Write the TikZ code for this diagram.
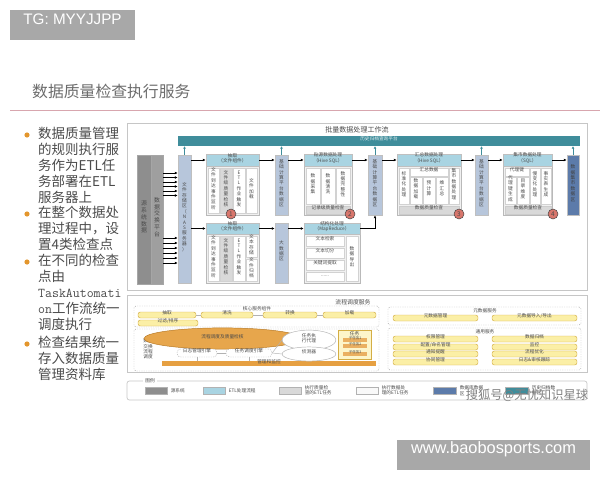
\documentclass[tikz,border=0pt]{standalone}
\usepackage{fontspec}
\setmainfont{Noto Sans CJK SC}
\newfontfamily\marcafont{Liberation Sans}
\usetikzlibrary{positioning, arrows.meta, fit, shapes.geometric}
\definecolor{grismarca}{HTML}{A8A8A8}
\definecolor{rosa}{HTML}{D8A6AE}
\definecolor{naranja}{HTML}{E3962D}
\definecolor{textogris}{HTML}{4A4A4A}
\definecolor{turquesa}{HTML}{3F8D9B}
\definecolor{azuletl}{HTML}{A9D4E2}
\definecolor{zonaazul}{HTML}{B7C6DB}
\definecolor{azuloscuro}{HTML}{5C7BAA}
\definecolor{rojo}{HTML}{D8766C}
\definecolor{amarillo}{HTML}{FBEFA6}
\definecolor{borde}{HTML}{D4AE45}
\definecolor{fuentegris}{HTML}{8E8E8E}
\newcommand{\mini}{\fontsize{4}{4.6}\selectfont}
\newcommand{\chico}{\fontsize{5}{5.8}\selectfont}
\newcommand{\apila}[1]{\apilaB#1\relax}
\def\apilaB#1{#1\apilaA}
\def\apilaA#1{\ifx#1\relax\else\\#1\expandafter\apilaA\fi}
\tikzset{
  flecha/.style={line width=0.6pt, -{Latex[length=2.5pt,width=2.4pt]}},
  subida/.style={line width=0.6pt, draw=turquesa, -{Latex[length=2pt,width=2.4pt]}},
  marca/.style={fill=grismarca, text=white, font=\marcafont\fontsize{13}{15}\selectfont},
  vineta/.style={anchor=north west, align=left, font=\fontsize{11.5}{13.66}\selectfont},
  panel/.style={draw=gray!45, line width=0.6pt},
  caja/.style={draw=gray!55, fill=gray!12},
  cabeza/.style={draw=gray!50, fill=azuletl, align=center, font=\mini},
  col/.style={draw=gray!35, fill=white, align=center, font=\mini},
  colq/.style={col, fill=gray!30},
  tira/.style={draw=gray!40, fill=gray!30, font=\mini},
  item/.style={draw=gray!35, fill=white, font=\mini},
  zona/.style={draw=gray!50, fill=zonaazul, align=center, font=\mini},
  fuente/.style={draw=gray!70, fill=fuentegris, align=center, font=\chico},
  num/.style={circle, draw=black!75, fill=rojo, minimum size=0.3cm, font=\fontsize{5.5}{6}\selectfont},
  grupo/.style={draw=gray!65, dash pattern=on 1pt off 1pt, rounded corners=1.5pt},
  pastilla/.style={draw=borde, fill=amarillo, rounded corners=2pt, font=\mini},
  motor/.style={draw=gray!60, dash pattern=on 1pt off 1pt, rounded corners=3pt, fill=white, font=\mini},
  linea/.style={draw=gray!60, line width=0.4pt},
  muestra/.style={draw=gray!60},
  etiqueta/.style={anchor=west, align=left, font=\mini}
}
\begin{document}
\begin{tikzpicture}[x=0.03cm, y=-0.03cm,
    every node/.style={inner sep=0pt, text=textogris}]
\useasboundingbox (0,0) rectangle (600,480);

\node[marca, fit={(10,10) (135,40)}] (tg) {TG: MYYJJPP};
\node[anchor=west, font=\fontsize{13.5}{15}\selectfont, text=gray!85!black] (titulo) at (32,91) {数据质量检查执行服务};
\draw[rosa, line width=0.8pt] (10,110) -- (600,110);

\foreach \y in {135,214,262,344} \fill[naranja] (27,\y) circle (2.6);
\node[vineta] (b1) at (38,127) {数据质量管理\\的规则执行服\\务作为ETL任\\务部署在ETL\\服务器上};
\node[vineta] (b2) at (38,206) {在整个数据处\\理过程中，设\\置4类检查点};
\node[vineta] (b3) at (38,254) {在不同的检查\\点由\\{\ttfamily TaskAutomati}\\{\ttfamily on}工作流统一\\调度执行};
\node[vineta] (b4) at (38,336) {检查结果统一\\存入数据质量\\管理资料库};

\node[panel, fit={(127,123) (587,290)}] (lote) {};
\node[font=\fontsize{6}{7}\selectfont] (tlote) at (357,130) {批量数据处理工作流};
\node[fill=turquesa, text=white!85!turquesa, font=\mini, fit={(178,136) (580,146)}] (hist) {历史归档查询平台};
\node[fuente, fit={(137,155) (151,284)}] (src) {\apila{源系统数据}};
\node[fuente, fill=fuentegris!85, fit={(151,155) (163,284)}] (inter) {\apila{数据交换平台}};
\node[zona, fit={(178,155) (191,283)}] (nas) {\apila{文件存储区（NAS服务器）}};
\foreach \y in {173,177.5,182,186.5,191,195.5} \draw[flecha] (inter.east |- 0,\y) -- (nas.west |- 0,\y);
\foreach \y in {238,243,248,253,258,263} \draw[flecha] (inter.east |- 0,\y) -- (nas.west |- 0,\y);

\node[caja, fit={(206,154) (259,215)}] (e1) {};
\node[cabeza, fit={(206,154) (259,166)}] (e1h) {抽取\\（文件组件）};
\node[col, fit={(208,168) (219,213)}] (c11) {\apila{文件到达事件监听}};
\node[colq, fit={(220,168) (232,213)}] (c12) {\apila{文件级质量检核}};
\node[col, fit={(233,168) (245,213)}] (c13) {\apila{ETL作业触发}};
\node[col, fit={(246,168) (257,213)}] (c14) {\apila{文件加载}};
\node[num] (k1) at (231,214) {1};

\node[zona, fit={(275,155) (288,215)}] (d1) {\apila{基础计算平台数据区}};

\node[caja, fit={(304,154) (352,215)}] (e2) {};
\node[cabeza, fit={(304,154) (352,166)}] (e2h) {贴源数据处理\\（Hive SQL）};
\node[col, fit={(306,168) (320,204)}] (c21) {\apila{数据采集}};
\node[col, fit={(321,168) (335,204)}] (c22) {\apila{数据清洗}};
\node[col, fit={(336,168) (350,204)}] (c23) {\apila{数据完整性}};
\node[tira, fit={(306,206) (350,214)}] (q2) {记录级质量检查};
\node[num] (k2) at (350,214) {2};

\node[zona, fit={(368,155) (382,215)}] (d2) {\apila{基础计算平台数据区}};

\node[caja, fit={(397,154) (461,215)}] (e3) {};
\node[cabeza, fit={(397,154) (461,166)}] (e3h) {汇总数据处理\\（Hive SQL）};
\node[col, fit={(399,168) (409,204)}] (c31) {\apila{标准化处理}};
\node[item, fit={(410,168) (448,176)}] (s3) {汇总数据};
\node[col, fit={(410,177) (422,204)}] (c32) {\apila{数据加载}};
\node[col, fit={(423,177) (435,204)}] (c33) {\apila{预计算}};
\node[col, fit={(436,177) (448,204)}] (c34) {\apila{维汇总}};
\node[col, fit={(449,168) (459,204)}] (c35) {\apila{集市数据处理}};
\node[tira, fit={(399,206) (459,214)}] (q3) {数据质量检查};
\node[num] (k3) at (459,214) {3};

\node[zona, fit={(475,155) (488,215)}] (d3) {\apila{基础计算平台数据区}};

\node[caja, fit={(503,154) (552,215)}] (e4) {};
\node[cabeza, fit={(503,154) (552,166)}] (e4h) {集市数据处理\\（SQL）};
\node[item, fit={(505,168) (529,176)}] (s4) {代理键};
\node[col, fit={(505,177) (516,204)}] (c41) {\apila{代理键生成}};
\node[col, fit={(517,177) (529,204)}] (c42) {\apila{目录维度}};
\node[col, fit={(530,168) (540,204)}] (c43) {\apila{慢变化处理}};
\node[col, fit={(541,168) (551,204)}] (c44) {\apila{事实表生成}};
\node[tira, fit={(505,206) (551,214)}] (q4) {数据质量检查};
\node[num] (k4) at (553,214) {4};

\node[zona, fill=azuloscuro, text=black!75, fit={(567,155) (579,215)}] (d4) {\apila{数据集市数据区}};

\node[caja, fit={(206,223) (259,283)}] (e5) {};
\node[cabeza, fit={(206,223) (259,234)}] (e5h) {抽取\\（文件组件）};
\node[col, fit={(208,236) (219,281)}] (c51) {\apila{文件到达事件监听}};
\node[colq, fit={(220,236) (232,281)}] (c52) {\apila{文件级质量检核}};
\node[col, fit={(233,236) (245,281)}] (c53) {\apila{ETL作业触发}};
\node[col, fit={(246,236) (257,257)}] (c54) {\apila{文本存储}};
\node[col, fit={(246,259) (257,281)}] (c55) {\apila{文件归档}};

\node[zona, fit={(275,223) (288,283)}] (d5) {\apila{大数据区}};

\node[caja, fit={(304,223) (360,283)}] (e6) {};
\node[cabeza, fit={(304,223) (360,234)}] (e6h) {结构化处理\\（MapReduce）};
\node[item, fit={(306,236) (344,246)}] (c61) {文本检索};
\node[item, fit={(306,248) (344,258)}] (c62) {文本切分};
\node[item, fit={(306,260) (344,270)}] (c63) {关键词提取};
\node[item, fit={(306,272) (344,281)}] (c64) {......};
\node[col, fit={(346,236) (358,281)}] (c65) {\apila{数据导出}};

\draw[flecha] (nas.east |- e1h) -- (e1h.west);
\draw[flecha] (e1h.east) -- (e1h.east -| d1.west);
\draw[flecha] (d1.east |- e2h) -- (e2h.west);
\draw[flecha] (e2h.east) -- (e2h.east -| d2.west);
\draw[flecha] (d2.east |- e3h) -- (e3h.west);
\draw[flecha] (e3h.east) -- (e3h.east -| d3.west);
\draw[flecha] (d3.east |- e4h) -- (e4h.west);
\draw[flecha] (e4h.east) -- (e4h.east -| d4.west);
\draw[flecha] (nas.east |- e5h) -- (e5h.west);
\draw[flecha] (e5h.east) -- (e5h.east -| d5.west);
\draw[flecha] (d5.east |- e6h) -- (e6h.west);
\draw[flecha] (e6h.east) -| (d2.south);
\foreach \z in {nas,d1,d2,d3,d4} \draw[subida] (\z.north) -- (\z.north |- hist.south);

\node[panel, fit={(127,295) (587,372)}] (flujo) {};
\node[font=\chico] (tflujo) at (353,302) {流程调度服务};

\node[grupo, fit={(134,306) (379,327)}] (nucleo) {};
\node[font=\mini] (tnucleo) at (257,309) {核心服务组件};
\node[pastilla, fit={(138,312) (196,318)}] (p1) {抽取};
\node[pastilla, fit={(201,312) (253,318)}] (p2) {清洗};
\node[pastilla, fit={(263,312) (317,318)}] (p3) {转换};
\node[pastilla, fit={(323,312) (376,318)}] (p4) {加载};
\node[pastilla, fit={(138,320) (198,326)}] (p5) {过滤/排序};
\draw[linea] (p1) -- (p2);
\draw[linea] (p2) -- (p3);
\draw[linea] (p3) -- (p4);

\node[grupo, fit={(134,329) (379,371)}] (sched) {};
\node[align=left, font=\mini] (tsched) at (148,349) {数据\\交换\\流程\\调度};
\node[ellipse, fill=naranja!85, draw=naranja!80!black, font=\mini, fit={(167,331) (278,346)}] (elip) {流程调度及质量检核};
\node[motor, fit={(177,349) (217,357)}] (eng1) {日志管理引擎};
\node[motor, fit={(226,349) (272,357)}] (eng2) {任务调度引擎};
\node[fill=naranja!90, font=\mini, fit={(162,361) (376,366)}] (mon) {管理和监控};
\node[ellipse, draw=gray!60, fill=white, align=center, font=\mini, fit={(290,333) (328,347)}] (agente) {任务执\\行代理};
\node[ellipse, draw=gray!60, fill=white, font=\mini, fit={(290,349) (328,359)}] (detector) {侦测器};
\node[draw=borde, fill=amarillo!60, fit={(338,330) (371,359)}] (tareas) {};
\node[font=\mini] (ttareas) at (354.5,334) {任务};
\node[fill=naranja!75, font=\fontsize{3}{3.5}\selectfont, fit={(343,338) (367,342)}] (t1) {子任务1};
\node[fill=naranja!75, font=\fontsize{3}{3.5}\selectfont, fit={(343,344) (367,348)}] (t2) {子任务2};
\node[fill=naranja!75, font=\fontsize{3}{3.5}\selectfont, fit={(343,352) (367,356)}] (t3) {子任务3};
\draw[linea] (eng1.north |- elip.south) -- (eng1.north);
\draw[linea] (eng2.north |- elip.south) -- (eng2.north);
\draw[linea] (eng1) -- (eng2);
\draw[linea] (eng2.east) -- (agente.west);
\draw[linea] (eng2.east) -- (detector.west);
\draw[linea] (eng1.south) -- (eng1.south |- mon.north);
\draw[linea] (eng2.south) -- (eng2.south |- mon.north);

\node[grupo, fit={(388,307) (581,325)}] (meta) {};
\node[font=\mini] (tmeta) at (485,311) {元数据服务};
\node[pastilla, fit={(393,315) (478,321)}] (m1) {元数据管理};
\node[pastilla, fit={(492,315) (577,321)}] (m2) {元数据导入/导出};

\node[grupo, fit={(388,328) (581,370)}] (comun) {};
\node[font=\mini] (tcomun) at (485,332) {通用服务};
\node[pastilla, fit={(393,336) (478,342)}] (g1) {权限管理};
\node[pastilla, fit={(393,344) (478,350)}] (g2) {配置/命名管理};
\node[pastilla, fit={(393,351) (478,357)}] (g3) {通知提醒};
\node[pastilla, fit={(393,359) (478,365)}] (g4) {协同管理};
\node[pastilla, fit={(492,336) (577,342)}] (g5) {数据归档};
\node[pastilla, fit={(492,344) (577,350)}] (g6) {监控};
\node[pastilla, fit={(492,351) (577,357)}] (g7) {流程优化};
\node[pastilla, fit={(492,359) (577,365)}] (g8) {日志\&审核跟踪};

\node[panel, rounded corners=2pt, fit={(127,381) (587,400)}] (leyenda) {};
\node[fill=white, inner xsep=2pt, font=\mini] (tley) at (150,381) {图例};
\node[muestra, fill=fuentegris, fit={(145,387) (167,394)}] (l1) {};
\node[etiqueta, right=1mm of l1] (tl1) {源系统};
\node[muestra, fill=azuletl, fit={(203,387) (225,394)}] (l2) {};
\node[etiqueta, right=1mm of l2] (tl2) {ETL处理流程};
\node[muestra, fill=gray!30, fit={(279,387) (301,394)}] (l3) {};
\node[etiqueta, right=1mm of l3] (tl3) {执行质量检\\查的ETL任务};
\node[muestra, fill=gray!5, fit={(356,387) (378,394)}] (l4) {};
\node[etiqueta, right=1mm of l4] (tl4) {执行数据处\\理的ETL任务};
\node[muestra, fill=azuloscuro, fit={(433,387) (456,394)}] (l5) {};
\node[etiqueta, right=1mm of l5] (tl5) {数据库数据\\区};
\node[muestra, fill=turquesa, fit={(505,387) (528,394)}] (l6) {};
\node[etiqueta, right=1mm of l6] (tl6) {历史归档数\\据区};
\node[text=gray, font=\fontsize{10.5}{12}\selectfont] (sohu) at (527,395) {搜狐号@无忧知识星球};

\node[marca, font=\marcafont\fontsize{14}{16}\selectfont, fit={(397,440) (590,470)}] (url) {www.baobosports.com};
\end{tikzpicture}
\end{document}
